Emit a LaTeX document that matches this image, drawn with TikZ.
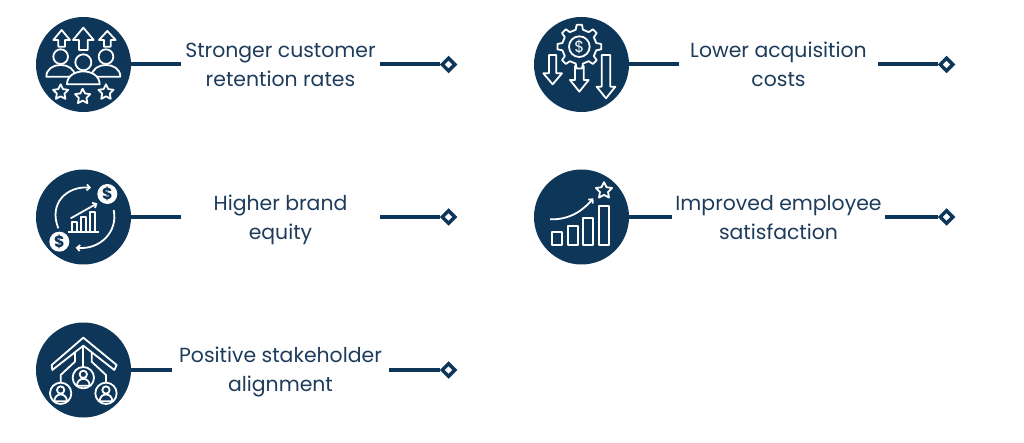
\documentclass[tikz,border=0pt]{standalone}
\usepackage{fontspec}
\setmainfont{Poppins}
\usetikzlibrary{shapes.geometric,arrows.meta}
\definecolor{navyblue}{HTML}{0D3659}
\definecolor{labelblue}{HTML}{1D3B5A}

% #1 = x, #2 = tip y, #3 = head base y, #4 = tail y, #5 = head half width, #6 = stem half width
\newcommand{\blockarrow}[6]{
    \draw[iconline,fill=navyblue] (#1,#2) -- ({#1+#5},#3) -- ({#1+#6},#3) -- ({#1+#6},#4)
        -- ({#1-#6},#4) -- ({#1-#6},#3) -- ({#1-#5},#3) -- cycle;
}
% #1 = x, #2 = head y, #3 = head radius, #4 = body half width, #5 = body bottom y
\newcommand{\person}[5]{
    \draw[iconline,fill=navyblue] ({#1-#4},#5) .. controls ({#1-#4},{#2+#3*0.6}) and ({#1+#4},{#2+#3*0.6}) .. ({#1+#4},#5) -- cycle;
    \draw[iconline,fill=navyblue] (#1,#2) circle (#3);
}
% both lines of a label, with the same height whatever the letters
\newcommand{\twolines}[2]{\rule{0pt}{20.5pt}#1\\#2\rule[-5pt]{0pt}{5pt}}

\begin{document}
\begin{tikzpicture}[x=1pt,y=-1pt,
    badge/.style={circle,fill=navyblue,minimum size=95pt,inner sep=0},
    label/.style={align=center,inner sep=0,text=labelblue,font=\fontsize{20.4}{29}\selectfont},
    tip/.style={diamond,draw=navyblue,line width=3.5pt,fill=white,minimum size=14pt,inner sep=0},
    link/.style={draw=navyblue,line width=4pt},
    iconline/.style={draw=white,line width=1.8pt,line join=round},
    starmark/.style={star,star points=5,star point ratio=2,draw=white,line width=1.8pt,minimum size=#1,inner sep=0,line join=round},
    coin/.style={circle,fill=white,text=navyblue,minimum size=20pt,inner sep=0,font=\fontsize{16}{16}\selectfont\bfseries},
    barb/.style={-{Straight Barb[length=3pt,width=6pt]}}]
    \useasboundingbox (0,0) rectangle (1024,443);

    \node[badge] (retention) at (83.5,64.5) {};
    \node[badge] (costs) at (581.5,64.5) {};
    \node[badge] (brand) at (83.5,217) {};
    \node[badge] (employee) at (581.5,217) {};
    \node[badge] (stakeholder) at (83.5,370) {};

    \node[label,minimum width=199pt] (retentiontxt) at (280.5,64.5) {\twolines{Stronger customer}{retention rates}};
    \node[label,minimum width=199pt] (coststxt) at (778.5,64.5) {\twolines{Lower acquisition}{costs}};
    \node[label,minimum width=199pt] (brandtxt) at (280.5,217) {\twolines{Higher brand}{equity}};
    \node[label,minimum width=213pt] (employeetxt) at (778.5,217) {\twolines{Improved employee}{satisfaction}};
    \node[label,minimum width=217pt] (stakeholdertxt) at (280.5,370) {\twolines{Positive stakeholder}{alignment}};

    \node[tip] (retentiontip) at (448.5,64.5) {};
    \node[tip] (coststip) at (946.5,64.5) {};
    \node[tip] (brandtip) at (448.5,217) {};
    \node[tip] (employeetip) at (946.5,217) {};
    \node[tip] (stakeholdertip) at (448.5,370) {};

    \path[-] (retention) edge[link] (retentiontxt);
    \path[-] (retentiontxt) edge[link] (retentiontip);
    \path[-] (costs) edge[link] (coststxt);
    \path[-] (coststxt) edge[link] (coststip);
    \path[-] (brand) edge[link] (brandtxt);
    \path[-] (brandtxt) edge[link] (brandtip);
    \path[-] (employee) edge[link] (employeetxt);
    \path[-] (employeetxt) edge[link] (employeetip);
    \path[-] (stakeholder) edge[link] (stakeholdertxt);
    \path[-] (stakeholdertxt) edge[link] (stakeholdertip);

    % customers icon
    \begin{scope}[shift={(20,5)},x=0.3333pt,y=-0.3333pt]
        \blockarrow{125}{75}{105}{125}{25}{10}
        \blockarrow{190}{68}{105}{135}{31}{13}
        \blockarrow{262}{78}{105}{125}{25}{10}
        \person{122}{155}{22}{43}{215}
        \person{258}{155}{22}{43}{215}
        \person{190}{172}{24}{49}{238}
        \node[starmark=16pt] (star1) at (122,262) {};
        \node[starmark=16pt] (star2) at (188,275) {};
        \node[starmark=16pt] (star3) at (258,262) {};
    \end{scope}

    % gear icon
    \begin{scope}[shift={(520,5)},x=0.3333pt,y=-0.3333pt]
        \blockarrow{98}{238}{205}{150}{28}{11}
        \blockarrow{178}{260}{225}{183}{28}{13}
        \blockarrow{258}{280}{245}{150}{28}{13}
        \draw[iconline,fill=navyblue,shift={(178,125)}] (-12:52) \foreach \a in {0,45,...,315} {
            -- ({\a-12}:52) -- ({\a-7}:66) -- ({\a+7}:66) -- ({\a+12}:52) } -- cycle;
        \draw[iconline] (178,125) circle (31);
        \node[text=white,inner sep=0,font=\fontsize{16}{16}\selectfont] (gearcoin) at (178,125) {\$};
    \end{scope}

    % brand equity icon
    \begin{scope}[shift={(20,160)},x=0.3333pt,y=-0.3333pt]
        \draw[iconline,barb] (115,205) .. controls (85,130) and (140,78) .. (213,83);
        \draw[iconline,barb] (281,150) .. controls (295,215) and (240,270) .. (167,263);
        \node[coin] (coin1) at (262,102) {\$};
        \node[coin] (coin2) at (118,245) {\$};
        \draw[iconline] (145,215) -- (237,215);
        \draw[iconline] (157,215) rectangle (172,187);
        \draw[iconline] (183,215) rectangle (198,172);
        \draw[iconline] (209,215) rectangle (224,157);
        \draw[iconline,barb] (152,175) -- (232,130);
    \end{scope}

    % growth icon
    \begin{scope}[shift={(520,160)},x=0.3333pt,y=-0.3333pt]
        \node[starmark=17pt] (topstar) at (252,92) {};
        \draw[iconline,barb] (90,178) .. controls (150,180) and (190,150) .. (220,115);
        \draw[iconline] (97,217) rectangle (126,255);
        \draw[iconline] (143,198) rectangle (173,255);
        \draw[iconline] (190,175) rectangle (220,255);
        \draw[iconline] (236,137) rectangle (267,255);
    \end{scope}

    % stakeholder icon
    \begin{scope}[shift={(20,315)},x=0.3333pt,y=-0.3333pt]
        \draw[iconline] (190,68) -- (290,150) -- (283,165) -- (190,92) -- (97,165) -- (95,150) -- cycle;
        \draw[iconline] (190,92) -- (190,155);
        \draw[iconline] (165,112) -- (165,140) -- (122,180) -- (122,203);
        \draw[iconline] (215,112) -- (215,140) -- (258,180) -- (258,203);
        \draw[iconline] (190,188) circle (32);
        \draw[iconline] (122,235) circle (32);
        \draw[iconline] (258,235) circle (32);
        \person{190}{178}{11}{19}{212}
        \person{122}{225}{11}{19}{259}
        \person{258}{225}{11}{19}{259}
    \end{scope}
\end{tikzpicture}
\end{document}
